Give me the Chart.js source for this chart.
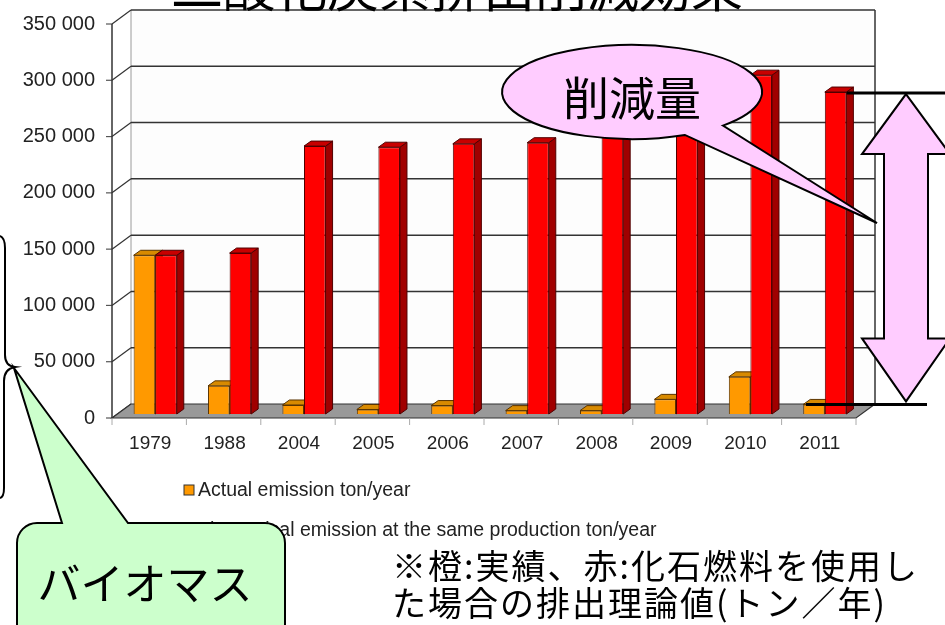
<!DOCTYPE html>
<html lang="ja">
<head>
<meta charset="utf-8">
<title>二酸化炭素排出削減効果</title>
<script src="https://cdn.jsdelivr.net/npm/chart.js@4"></script>
<style>
  html, body { margin: 0; padding: 0; background: #fff; }
  #wrap { position: relative; width: 945px; height: 625px; }
</style>
</head>
<body>
<div id="wrap"><canvas id="co2Chart"></canvas></div>
<script>
var years = ["1979", "1988", "2004", "2005", "2006", "2007", "2008", "2009", "2010", "2011"];
var actualEmission = [141000, 25000, 8000, 4000, 7500, 3000, 3000, 13000, 33000, 8500];
var theoreticalEmission = [141000, 143000, 238000, 237000, 240000, 241000, 258000, 266000, 301000, 286000];
var yTickValues = [0, 50000, 100000, 150000, 200000, 250000, 300000, 350000];
var seriesNames = ["Actual emission ton/year", "Theoretical emission at the same production ton/year"];

var LATIN = "'Liberation Sans', Arial, sans-serif";
var CJK = "'Noto Sans CJK JP', sans-serif";

// bar faces: front, top, side, edge
var barColors = [
  { front: "#FF9900", top: "#D88A00", side: "#B87400", edge: "#5a3400" },
  { front: "#FF0000", top: "#C80000", side: "#A00000", edge: "#500000" }
];

// offsets of the 3D box relative to the plane the bars stand in
var BAR_DEPTH = { dx: 7, dy: -5 };
var FRONT = { dx: -6, dy: 4 };
var BACK = { dx: 13, dy: -10 };

function spaced(v) {
  return String(v).replace(/\B(?=(\d{3})+(?!\d))/g, " ");
}

function poly(ctx, pts, fill, stroke, lw) {
  ctx.beginPath();
  ctx.moveTo(pts[0][0], pts[0][1]);
  for (var i = 1; i < pts.length; i++) ctx.lineTo(pts[i][0], pts[i][1]);
  ctx.closePath();
  if (fill) { ctx.fillStyle = fill; ctx.fill(); }
  if (stroke) { ctx.strokeStyle = stroke; ctx.lineWidth = lw || 1; ctx.stroke(); }
}

function line(ctx, x1, y1, x2, y2, color, lw) {
  ctx.beginPath();
  ctx.moveTo(x1, y1);
  ctx.lineTo(x2, y2);
  ctx.strokeStyle = color;
  ctx.lineWidth = lw;
  ctx.stroke();
}

var box3d = {
  id: "box3d",
  beforeDatasetsDraw: function (chart) {
    var ctx = chart.ctx, a = chart.chartArea, ys = chart.scales.y;
    var fl = a.left + FRONT.dx, fr = a.right + FRONT.dx, fb = a.bottom + FRONT.dy;
    var bl = a.left + BACK.dx, br = a.right + BACK.dx, bb = a.bottom + BACK.dy;
    var top = ys.getPixelForValue(yTickValues[yTickValues.length - 1]);
    ctx.save();

    // back wall and its gridlines
    ctx.fillStyle = "#fdfdfd";
    ctx.fillRect(bl, top + BACK.dy, br - bl, bb - top - BACK.dy);
    line(ctx, bl, top + BACK.dy, bl, bb, "#9a9a9a", 1);
    yTickValues.forEach(function (v) {
      var py = ys.getPixelForValue(v);
      if (v > 0) line(ctx, bl, py + BACK.dy, br, py + BACK.dy, "#333", 1.5);
      line(ctx, fl, py + FRONT.dy, bl, py + BACK.dy, "#333", 1.2);
      line(ctx, fl - 6, py + FRONT.dy, fl, py + FRONT.dy, "#555", 1.2);
    });
    line(ctx, br, top + BACK.dy, br, bb, "#333", 1.5);
    line(ctx, fl, top + FRONT.dy, fl, fb, "#333", 1.5);

    // floor
    poly(ctx, [[fl, fb], [fr, fb], [br, bb], [bl, bb]], "#999999", "#333", 1.2);

    // category ticks under the floor
    var n = years.length, step = (a.right - a.left) / n;
    for (var i = 0; i <= n; i++) {
      var tx = a.left + i * step + FRONT.dx;
      line(ctx, tx, fb, tx, fb + 7, "#aaa", 1);
    }

    // top and side faces of every bar
    chart.data.datasets.forEach(function (ds, di) {
      var c = barColors[di];
      chart.getDatasetMeta(di).data.forEach(function (el) {
        var p = el.getProps(["x", "y", "width", "base"], true);
        var l = p.x - p.width / 2, r = p.x + p.width / 2;
        var dx = BAR_DEPTH.dx, dy = BAR_DEPTH.dy;
        poly(ctx, [[r, p.y], [r + dx, p.y + dy], [r + dx, p.base + dy], [r, p.base]], c.side, c.edge, 1);
        poly(ctx, [[l, p.y], [l + dx, p.y + dy], [r + dx, p.y + dy], [r, p.y]], c.top, c.edge, 1);
      });
    });
    ctx.restore();
  },
  afterDraw: function (chart) {
    var ctx = chart.ctx;
    ctx.save();

    // legend, one series per row
    ctx.font = "19.5px " + LATIN;
    ctx.textBaseline = "middle";
    ctx.textAlign = "left";
    chart.data.datasets.forEach(function (ds, i) {
      var ly = 490 + i * 40;
      ctx.fillStyle = ds.backgroundColor;
      ctx.fillRect(184, ly - 5, 10, 10);
      ctx.strokeStyle = "#333";
      ctx.lineWidth = 1;
      ctx.strokeRect(184, ly - 5, 10, 10);
      ctx.fillStyle = "#222";
      ctx.fillText(ds.label, 198, ly + 1);
    });

    // heading, clipped by the top of the page
    ctx.font = "52px " + CJK;
    ctx.textAlign = "center";
    ctx.textBaseline = "alphabetic";
    ctx.fillStyle = "#000";
    ctx.fillText("二酸化炭素排出削減効果", 457, 7);

    // reduction in the last year: marker lines at both bar tops
    var last = years.length - 1;
    var red = chart.getDatasetMeta(1).data[last].getProps(["x", "y"], true);
    var org = chart.getDatasetMeta(0).data[last].getProps(["x", "y"], true);
    line(ctx, red.x + 11, red.y + 1, 945, red.y + 1, "#000", 3);
    line(ctx, org.x - 8, org.y, 927, org.y, "#000", 3);

    // double arrow between them
    var ax = 906, t = red.y + 2, b = org.y - 3;
    poly(ctx, [[ax, t], [ax + 44, t + 60], [ax + 22, t + 60], [ax + 22, b - 63], [ax + 44, b - 63],
      [ax, b], [ax - 44, b - 63], [ax - 22, b - 63], [ax - 22, t + 60], [ax - 44, t + 60]],
      "#FFCCFF", "#000", 2);

    // speech bubble "削減量"
    var cx = 632, cy = 92, rx = 130, ry = 47;
    ctx.beginPath();
    ctx.ellipse(cx, cy, rx, ry, 0, 66 * Math.PI / 180, (360 + 45.6) * Math.PI / 180);
    ctx.lineTo(877, 223);
    ctx.closePath();
    ctx.fillStyle = "#FFCCFF";
    ctx.fill();
    ctx.strokeStyle = "#000";
    ctx.lineWidth = 2;
    ctx.stroke();
    ctx.fillStyle = "#000";
    ctx.font = "46px " + CJK;
    ctx.textAlign = "center";
    ctx.textBaseline = "middle";
    ctx.fillText("削減量", cx, cy + 6);

    // brace on the left edge
    ctx.beginPath();
    ctx.moveTo(0, 236);
    ctx.quadraticCurveTo(5, 238, 5, 248);
    ctx.lineTo(5, 355);
    ctx.quadraticCurveTo(5, 366, 15, 367);
    ctx.quadraticCurveTo(4, 369, 4, 381);
    ctx.lineTo(4, 488);
    ctx.quadraticCurveTo(4, 497, 0, 498);
    ctx.strokeStyle = "#000";
    ctx.lineWidth = 2;
    ctx.stroke();

    // callout "バイオマス"
    var L = 17, T = 523, R = 285, B = 650, rad = 20;
    ctx.beginPath();
    ctx.moveTo(128, T);
    ctx.lineTo(R - rad, T);
    ctx.arcTo(R, T, R, T + rad, rad);
    ctx.lineTo(R, B - rad);
    ctx.arcTo(R, B, R - rad, B, rad);
    ctx.lineTo(L + rad, B);
    ctx.arcTo(L, B, L, B - rad, rad);
    ctx.lineTo(L, T + rad);
    ctx.arcTo(L, T, L + rad, T, rad);
    ctx.lineTo(62, T);
    ctx.lineTo(14, 368);
    ctx.closePath();
    ctx.fillStyle = "#CCFFCC";
    ctx.fill();
    ctx.strokeStyle = "#000";
    ctx.lineWidth = 2;
    ctx.stroke();
    ctx.fillStyle = "#000";
    ctx.font = "43px " + CJK;
    ctx.fillText("バイオマス", 145, 584);

    // note
    ctx.font = "34px " + CJK;
    ctx.letterSpacing = "2px";
    ctx.textAlign = "left";
    ctx.textBaseline = "alphabetic";
    ctx.fillText("※橙:実績、赤:化石燃料を使用し", 392, 579);
    ctx.fillText("た場合の排出理論値(トン／年)", 392, 616);
    ctx.letterSpacing = "0px";
    ctx.restore();
  }
};

Chart.defaults.font.family = LATIN;

new Chart(document.getElementById("co2Chart"), {
  type: "bar",
  data: {
    labels: years,
    datasets: [
      {
        label: seriesNames[0],
        data: actualEmission,
        backgroundColor: barColors[0].front,
        borderColor: barColors[0].edge,
        borderWidth: 1,
        barPercentage: 1.0,
        categoryPercentage: 0.58
      },
      {
        label: seriesNames[1],
        data: theoreticalEmission,
        backgroundColor: barColors[1].front,
        borderColor: barColors[1].edge,
        borderWidth: 1,
        barPercentage: 1.0,
        categoryPercentage: 0.58
      }
    ]
  },
  options: {
    responsive: true,
    maintainAspectRatio: false,
    animation: false,
    layout: { padding: { left: 0, top: 20, right: 83, bottom: 0 } },
    plugins: {
      legend: { display: false },
      tooltip: { enabled: false }
    },
    scales: {
      x: {
        grid: { display: false, drawTicks: false },
        border: { display: false },
        ticks: { font: { size: 19 }, color: "#222", padding: 18, labelOffset: -5, maxRotation: 0 },
        afterFit: function (s) { s.height = 211; }
      },
      y: {
        min: 0,
        max: 350000,
        grid: { display: false, drawTicks: false },
        border: { display: false },
        afterBuildTicks: function (s) {
          s.ticks = yTickValues.map(function (v) { return { value: v }; });
        },
        ticks: {
          font: { size: 20 },
          color: "#222",
          padding: 23,
          labelOffset: 4,
          callback: function (v) { return spaced(v); }
        },
        afterFit: function (s) {
          s.width = 118;
          s.paddingTop = 0;
          s.paddingBottom = 0;
        }
      }
    }
  },
  plugins: [box3d]
});
</script>
</body>
</html>
